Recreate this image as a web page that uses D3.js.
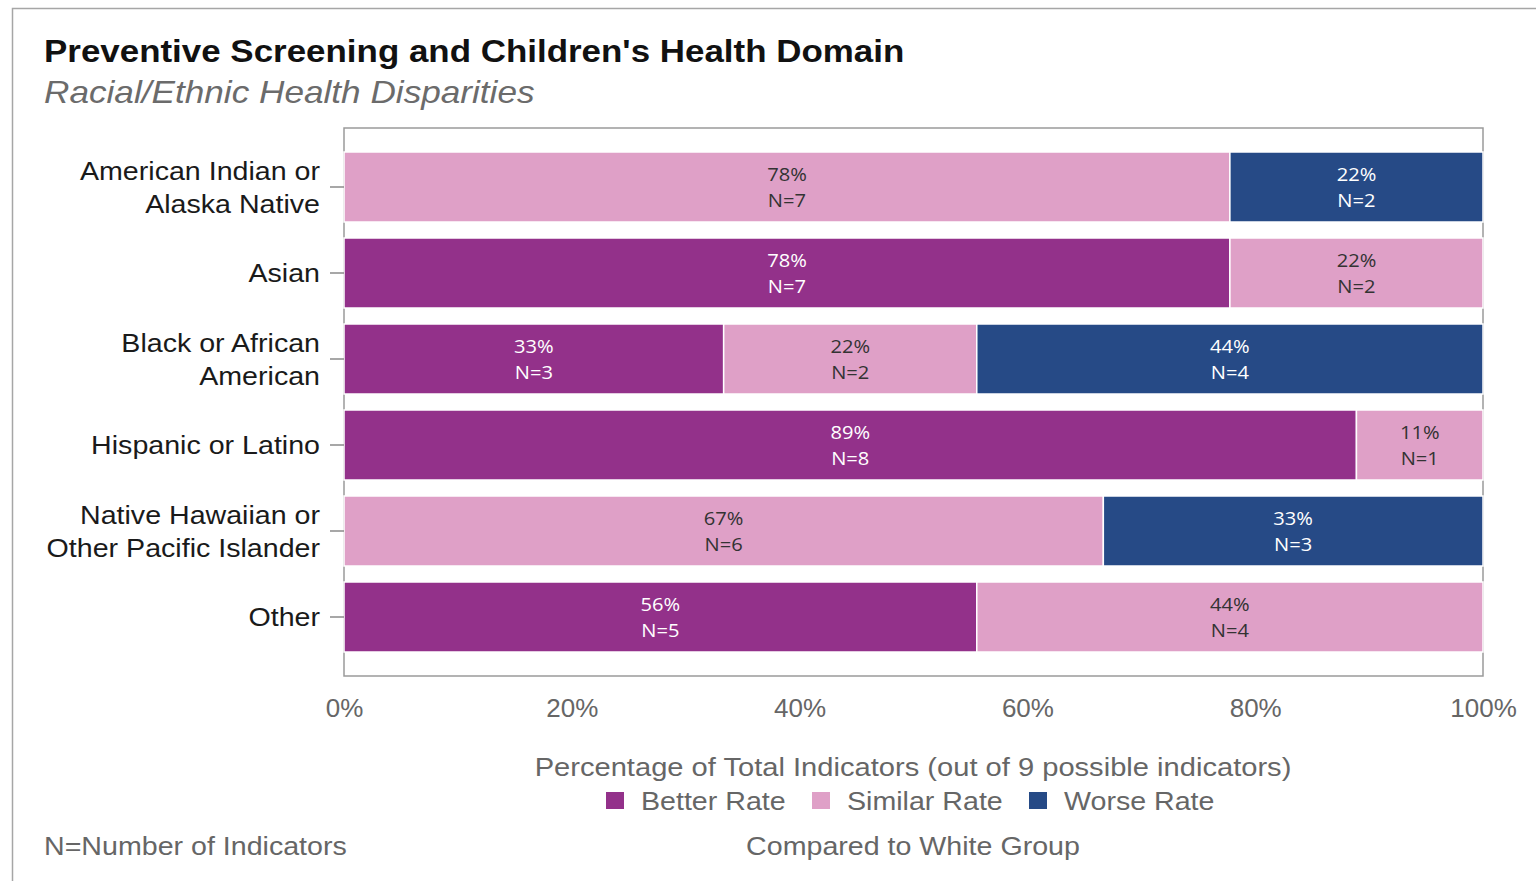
<!DOCTYPE html>
<html>
<head>
<meta charset="utf-8">
<script src="https://cdn.jsdelivr.net/npm/d3@7"></script>
<style>
  html, body { margin: 0; padding: 0; background: #fff; }
  svg { display: block; }
</style>
</head>
<body>
<svg id="chart" width="1536" height="881"></svg>
<script>
// data (counts out of 9 indicators)
const groups = [
  'American Indian or|Alaska Native',
  'Asian',
  'Black or African|American',
  'Hispanic or Latino',
  'Native Hawaiian or|Other Pacific Islander',
  'Other'
];
const better = [0, 7, 3, 8, 0, 5];
const similar = [7, 2, 2, 1, 6, 4];
const worse = [2, 0, 4, 0, 3, 0];
const totalIndicators = 9;
const categories = ['Better Rate', 'Similar Rate', 'Worse Rate'];
const xTicks = [0, 0.2, 0.4, 0.6, 0.8, 1];

const colors = { 'Better Rate': '#93318a', 'Similar Rate': '#dfa0c7', 'Worse Rate': '#264a86' };
const textColors = { 'Better Rate': '#ffffff', 'Similar Rate': '#333333', 'Worse Rate': '#ffffff' };

const rows = groups.map((g, i) => ({
  group: g,
  'Better Rate': better[i],
  'Similar Rate': similar[i],
  'Worse Rate': worse[i]
}));

const FONT = 'Liberation Sans, Arial, sans-serif';
const svg = d3.select('#chart');

// text in the original is a bit wider than plain Arial, stretch it horizontally
const addText = (parent, x, y, sx, str) =>
  parent.append('text')
    .attr('transform', `translate(${x},${y}) scale(${sx},1)`)
    .attr('font-family', FONT)
    .text(str);

// outer frame
svg.append('path')
  .attr('d', 'M12.5,881 V8.5 H1536')
  .attr('fill', 'none')
  .attr('stroke', '#a6a6a6')
  .attr('stroke-width', 1.5);

// titles
addText(svg, 44, 62, 1.127, "Preventive Screening and Children's Health Domain")
  .attr('font-weight', 'bold')
  .attr('font-size', 31)
  .attr('fill', '#111');

addText(svg, 44, 103, 1.135, 'Racial/Ethnic Health Disparities')
  .attr('font-style', 'italic')
  .attr('font-size', 31)
  .attr('fill', '#6b6b6b');

// scales
const x = d3.scaleLinear().domain([0, 1]).range([344, 1483]);
const y = d3.scaleBand().domain(groups).range([144, 660])
  .paddingInner(0.186).paddingOuter(0.093);

// panel border
svg.append('rect')
  .attr('x', 344).attr('y', 128)
  .attr('width', 1483 - 344).attr('height', 676 - 128)
  .attr('fill', '#fff')
  .attr('stroke', '#9a9a9a')
  .attr('stroke-width', 1.5);

const stack = d3.stack().keys(categories)(rows);

const layer = svg.append('g').selectAll('g')
  .data(stack)
  .join('g')
  .attr('fill', d => colors[d.key]);

layer.selectAll('rect')
  .data(d => d.map(v => ({ key: d.key, v })))
  .join('rect')
  .attr('x', d => x(d.v[0] / totalIndicators))
  .attr('y', d => y(d.v.data.group))
  .attr('width', d => x(d.v[1] / totalIndicators) - x(d.v[0] / totalIndicators))
  .attr('height', y.bandwidth())
  .attr('stroke', '#fff')
  .attr('stroke-width', d => (d.v[1] - d.v[0]) > 0 ? 1.5 : 0);

// segment labels
const labels = svg.append('g');

stack.forEach(s => {
  s.forEach(v => {
    const n = v[1] - v[0];
    if (n <= 0) return;
    const cx = x((v[0] + n / 2) / totalIndicators);
    const cy = y(v.data.group) + y.bandwidth() / 2;
    const t = labels.append('text')
      .attr('transform', `translate(${cx},${cy}) scale(1.06,1)`)
      .attr('font-family', 'Open Sans, sans-serif')
      .attr('font-size', 19)
      .attr('text-anchor', 'middle')
      .attr('fill', textColors[s.key]);
    t.append('tspan').attr('x', 0).attr('y', -6)
      .text(Math.round(n / totalIndicators * 100) + '%');
    t.append('tspan').attr('x', 0).attr('y', 20)
      .text('N=' + n);
  });
});

// y axis
const yAxis = svg.append('g')
  .attr('transform', 'translate(344,0)')
  .call(d3.axisLeft(y).tickSize(14).tickPadding(10).tickFormat(''));
yAxis.select('.domain').remove();
yAxis.selectAll('line').attr('stroke', '#8a8a8a').attr('stroke-width', 1.5);

yAxis.selectAll('.tick').each(function (d) {
  const lines = d.split('|');
  const t = d3.select(this).append('text')
    .attr('transform', 'translate(-24,0) scale(1.1,1)')
    .attr('text-anchor', 'end')
    .attr('font-family', FONT)
    .attr('font-size', 26)
    .attr('fill', '#1a1a1a');
  const lh = 33;
  const start = -(lines.length - 1) * lh / 2;
  lines.forEach((ln, i) => {
    t.append('tspan')
      .attr('x', 0)
      .attr('y', start + i * lh)
      .attr('dy', '0.35em')
      .text(ln);
  });
});

// x axis
const xAxis = svg.append('g')
  .attr('transform', 'translate(0,676)')
  .call(d3.axisBottom(x).tickValues(xTicks).tickSize(0).tickPadding(23)
    .tickFormat(d3.format('.0%')));
xAxis.select('.domain').remove();
xAxis.selectAll('text')
  .attr('font-family', FONT)
  .attr('font-size', 26)
  .attr('fill', '#666');

// axis title
addText(svg, 913, 776, 1.12, 'Percentage of Total Indicators (out of 9 possible indicators)')
  .attr('text-anchor', 'middle')
  .attr('font-size', 26)
  .attr('fill', '#666');

// legend
const legendX = [606, 812, 1029];
categories.forEach((c, i) => {
  const g = svg.append('g').attr('transform', `translate(${legendX[i]},792)`);
  g.append('rect').attr('width', 18).attr('height', 17).attr('fill', colors[c]);
  addText(g, 35, 18, 1.1, c)
    .attr('font-size', 26)
    .attr('fill', '#666');
});

// footer
addText(svg, 913, 855, 1.1, 'Compared to White Group')
  .attr('text-anchor', 'middle')
  .attr('font-size', 26)
  .attr('fill', '#666');

addText(svg, 44, 855, 1.1, 'N=Number of Indicators')
  .attr('font-size', 26)
  .attr('fill', '#666');
</script>
</body>
</html>
